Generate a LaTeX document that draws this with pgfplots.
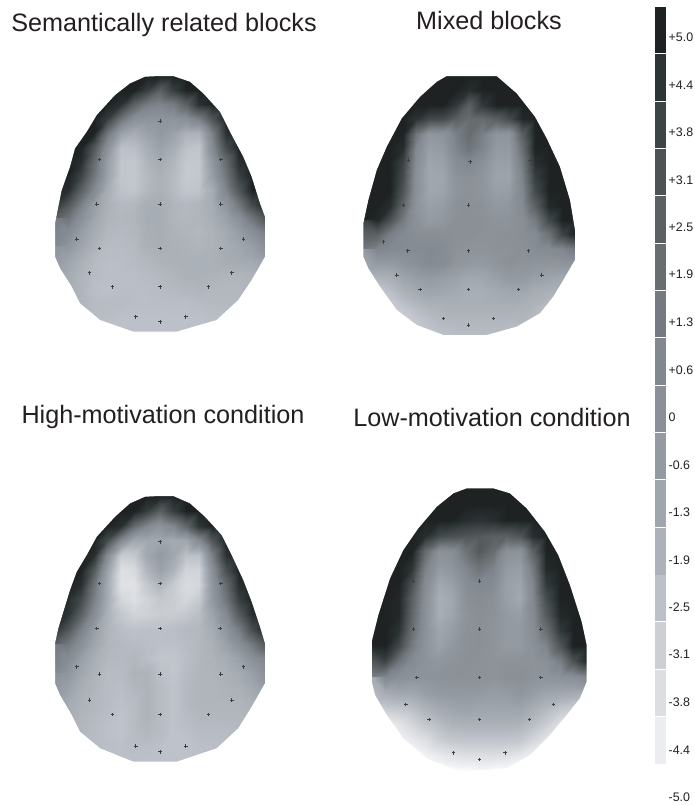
\documentclass[border=0pt]{standalone}
\usepackage{pgfplots}
\usepackage{fontspec}
\setmainfont{Liberation Sans}
\pgfplotsset{compat=1.18}
\newcommand\cell[3]{\addplot[fill={rgb,255:#3},draw=none,forget plot] coordinates {(655,#1)(666,#1)(666,#2)(655,#2)} --cycle;}
\newcommand\lab[2]{\node[anchor=west,inner sep=0pt,font=\fontsize{12.4}{12.4}\selectfont,text={rgb,255:red,35;green,31;blue,32}] at (axis cs:668.5,#1) {#2};}
\newcommand\ttl[3]{\node[inner sep=0pt,font=\fontsize{25.2}{25.2}\selectfont,text={rgb,255:red,35;green,31;blue,32}] at (axis cs:#1,#2) {#3};}
\pgfplotsset{head/.style={surf,shader=interp,forget plot,mesh/cols=17,mesh/rows=19,mesh/ordering=x varies,point meta=\thisrow{v}},
 mask/.style={fill=white,draw=none,forget plot,even odd rule},
 elec/.style={only marks,mark=+,mark size=1.8pt,forget plot,mark options={line width=0.8pt,draw={rgb,255:red,60;green,64;blue,68}}}}
\begin{document}
\begin{tikzpicture}
\path[use as bounding box] (0,0) rectangle (694pt,806pt);
\begin{axis}[at={(0,0)},anchor=south west,hide axis,scale only axis,width=694pt,height=806pt,xmin=0,xmax=694,ymin=0,ymax=806,y dir=reverse,clip=false,
 point meta min=-5,point meta max=5,
 colormap={scalp}{rgb255=(255,255,255) rgb255=(236,237,240) rgb255=(220,222,226) rgb255=(204,208,212) rgb255=(188,192,200) rgb255=(173,178,185) rgb255=(160,166,173) rgb255=(148,154,161) rgb255=(138,144,150) rgb255=(130,136,144) rgb255=(116,122,128) rgb255=(104,109,112) rgb255=(91,97,99) rgb255=(77,83,84) rgb255=(61,68,70) rgb255=(45,52,53) rgb255=(30,34,34)}]
% Head 1
\addplot[head] table[row sep=\\,x expr={55+13.125*mod(\coordindex,17)},y expr={76+14.2*floor(\coordindex/17)}] {v\\
5\\5\\5\\5\\5\\5\\5\\5\\5\\5\\5\\5\\5\\5\\5\\5\\5\\
5\\5\\5\\5\\5\\5\\5\\4\\2.5\\4\\5\\5\\5\\5\\5\\5\\5\\
5\\5\\5\\5\\5\\4.5\\2.5\\1.2\\0.8\\1.2\\2.5\\4.5\\5\\5\\5\\5\\5\\
5\\5\\5\\5\\4\\1.5\\0\\-0.3\\-0.3\\-0.3\\0\\1\\3\\5\\5\\5\\5\\
5\\5\\5\\5\\1.5\\-1\\-1.6\\-1\\-0.6\\-1\\-1.9\\-1.9\\1\\4.5\\5\\5\\5\\
5\\5\\5\\3\\0\\-2.5\\-2.4\\-1.6\\-1\\-1.6\\-2.5\\-2.7\\0.3\\3.5\\5\\5\\5\\
5\\5\\4.6\\2\\-0.8\\-2.7\\-2.8\\-2\\-1.5\\-2\\-2.8\\-2.8\\-0.5\\2\\4.6\\5\\5\\
5\\5\\3.8\\1.5\\-1\\-2.7\\-2.8\\-2.2\\-1.8\\-2.2\\-2.9\\-2.8\\-0.8\\1.5\\4\\5\\5\\
5\\4.6\\2.5\\0.5\\-1.6\\-2.6\\-2.7\\-2.1\\-1.8\\-2.2\\-2.7\\-2.6\\-1.6\\0.8\\3\\5\\5\\
4.4\\3\\1\\-0.8\\-1.8\\-2.2\\-2.1\\-1.7\\-1.6\\-2\\-2.2\\-2\\-1.6\\-0.4\\1.5\\3.6\\5\\
2.5\\1.5\\0\\-1.2\\-1.9\\-2.1\\-2\\-1.6\\-1.6\\-2\\-2.1\\-2\\-1.7\\-1\\0\\1.5\\3\\
1.2\\0.3\\-0.8\\-1.6\\-2.1\\-2.2\\-2.1\\-1.7\\-1.6\\-1.9\\-2\\-2.1\\-1.9\\-1.5\\-0.8\\0\\1\\
0.5\\-0.4\\-1.2\\-1.9\\-2.3\\-2.3\\-2.2\\-1.8\\-1.7\\-1.8\\-1.9\\-2\\-1.9\\-1.6\\-1.3\\-0.8\\0\\
-0.3\\-1.2\\-1.8\\-2.2\\-2.4\\-2.4\\-2.3\\-2.1\\-1.9\\-1.8\\-1.8\\-1.8\\-1.8\\-1.6\\-1.5\\-1.4\\-1\\
-1\\-1.5\\-2\\-2.3\\-2.4\\-2.4\\-2.4\\-2.3\\-2.2\\-2\\-1.8\\-1.8\\-1.9\\-2\\-2\\-1.9\\-1.7\\
-1.5\\-1.7\\-2\\-2.4\\-2.5\\-2.4\\-2.4\\-2.4\\-2.3\\-2.2\\-2.1\\-2\\-2.1\\-2.1\\-2.1\\-2\\-1.8\\
-1.6\\-1.8\\-2\\-2.3\\-2.3\\-2.3\\-2.4\\-2.4\\-2.4\\-2.4\\-2.4\\-2.3\\-2.2\\-2.2\\-2.1\\-2\\-1.9\\
-2\\-2\\-2\\-2.3\\-2.4\\-2.5\\-2.5\\-2.5\\-2.5\\-2.5\\-2.5\\-2.5\\-2.4\\-2.3\\-2.2\\-2.1\\-2\\
-2.5\\-2.5\\-2.5\\-2.5\\-2.5\\-2.5\\-2.5\\-2.5\\-2.5\\-2.5\\-2.5\\-2.5\\-2.5\\-2.5\\-2.5\\-2.5\\-2.5\\
};
\addplot[mask] coordinates {(159,73)(268,73)(268,335)(52,335)(52,73)(159,73)(159,76)(173.3,76)(190,81.7)(203.3,93.3)(220,111.7)(230,131.7)(243.3,156.7)(251.7,176.7)(260,203.3)(265,216.7)(265,256.7)(251.7,280)(238.3,300)(216.7,320)(176.7,331.7)(133.3,331.7)(100,320)(80,303.3)(71.7,286.7)(60,268.3)(55,256.7)(55,223.3)(58.3,206.7)(61.7,190)(70,166.7)(75,148.3)(86.7,131.7)(96.7,115)(115,95)(130,83.3)(145,76.7)(159,76)(159,73)} --cycle;
\addplot[elec] coordinates {(160,121)(99.3,159.3)(160,159.3)(220.7,159.3)(96.7,204)(160,204)(220.7,204)(76.7,239)(243.3,239)(99.3,248.3)(160,248.3)(220.7,248.3)(89.3,272.7)(231.7,272.7)(112.3,286.7)(160,286.7)(208.3,286.7)(135.7,316.7)(160,321.7)(185.7,316.7)};
% Head 2
\addplot[head] table[row sep=\\,x expr={363.3+13.23*mod(\coordindex,17)},y expr={76+14.39*floor(\coordindex/17)}] {v\\
5\\5\\5\\5\\5\\5\\5\\5\\5\\5\\5\\5\\5\\5\\5\\5\\5\\
5\\5\\5\\5\\5\\5\\5\\5\\4.6\\5\\5\\5\\5\\5\\5\\5\\5\\
5\\5\\5\\5\\5\\5\\5\\4.2\\2.5\\4.2\\5\\5\\5\\5\\5\\5\\5\\
5\\5\\5\\5\\4.4\\3.5\\3.4\\2.5\\1.9\\1.9\\2.5\\3.4\\4.8\\5\\5\\5\\5\\
5\\5\\5\\5\\1.5\\-0.4\\-0.2\\1\\1.9\\1\\-0.3\\-0.3\\2.5\\5\\5\\5\\5\\
5\\5\\5\\4.6\\0.6\\-0.9\\-0.6\\0.8\\1.5\\0.8\\-0.6\\-0.6\\1.8\\5\\5\\5\\5\\
5\\5\\5\\3.8\\0.2\\-1.2\\-1\\0.2\\0.6\\0\\-0.9\\-0.9\\1.2\\4.6\\5\\5\\5\\
5\\5\\5\\3.4\\0\\-1.3\\-1.2\\-0.2\\0\\-0.3\\-1.1\\-1.1\\0.8\\4\\5\\5\\5\\
5\\5\\5\\3\\0\\-1.3\\-1.1\\-0.3\\-0.1\\-0.3\\-0.9\\-0.8\\0.6\\3.5\\5\\5\\5\\
5\\5\\4.6\\2.2\\-0.2\\-0.9\\-0.7\\-0.1\\0\\-0.1\\-0.5\\-0.4\\0.4\\2.5\\4.8\\5\\5\\
5\\4.8\\3.2\\1.2\\-0.1\\-0.7\\-0.5\\0\\0\\0\\-0.2\\-0.2\\0.1\\1.2\\3.6\\5\\5\\
3.8\\2.5\\1\\0.5\\0.2\\0.1\\0.1\\0\\0\\-0.1\\-0.1\\0\\0.1\\0.4\\1.6\\3.8\\5\\
1.3\\0.8\\0.5\\0.4\\0.4\\0.5\\0.3\\-0.1\\-0.2\\-0.2\\-0.1\\-0.1\\0\\0.2\\0.3\\0.6\\1.3\\
-0.6\\-0.6\\-0.6\\-0.3\\0\\0.4\\0.3\\-0.3\\-0.6\\-0.6\\-0.3\\0\\-0.2\\-0.3\\-0.3\\-0.3\\-0.3\\
-1.9\\-1.9\\-1.7\\-1.1\\-0.8\\-0.6\\-0.8\\-1\\-1.3\\-1.3\\-0.9\\-0.6\\-0.6\\-0.9\\-1.1\\-1.3\\-1.5\\
-3\\-2.8\\-2.5\\-1.9\\-1.5\\-1.2\\-1.3\\-1.5\\-1.7\\-1.7\\-1.5\\-1.3\\-1.3\\-1.6\\-1.8\\-2\\-2.2\\
-3.5\\-3.5\\-3.1\\-2.6\\-2.2\\-1.9\\-1.8\\-1.7\\-1.7\\-1.7\\-1.7\\-1.7\\-1.8\\-2\\-2.4\\-2.7\\-3\\
-4\\-4\\-3.8\\-3.3\\-2.8\\-2.4\\-2.1\\-2.1\\-2.1\\-2.1\\-2.1\\-2.1\\-2.1\\-2.4\\-2.7\\-3\\-3\\
-4\\-4\\-3.8\\-3.5\\-3.1\\-2.8\\-2.5\\-2.3\\-2.3\\-2.3\\-2.3\\-2.5\\-2.5\\-2.7\\-3\\-3\\-3\\
};
\addplot[mask] coordinates {(468,73)(578,73)(578,338)(360,338)(360,73)(468,73)(468,76)(496.7,76)(516.7,93.3)(535,116.7)(546.7,138.3)(560,166.7)(570,200)(575,230)(575,260)(563.3,280)(553.3,296.7)(540,313.3)(516.7,326.7)(486.7,335)(443.3,335)(416.7,325)(396.7,310)(380,286.7)(368.3,268.3)(363.3,256.7)(363.3,223.3)(368.3,200)(376.7,170)(386.7,146.7)(401.7,118.3)(420,96.7)(436.7,81.7)(446.7,76)(468,76)(468,73)} --cycle;
\addplot[elec] coordinates {(470,161.7)(408.3,160)(530,160)(403.3,205)(468.3,205)(383.3,241.7)(407.7,250.7)(468.3,250.7)(528.3,250.7)(396.7,275)(541.7,275)(420,289.3)(468.3,289.3)(518.3,289.3)(443.3,318.3)(468.3,325)(493.3,318.3)};
% Head 3
\addplot[head] table[row sep=\\,x expr={55+13.125*mod(\coordindex,17)},y expr={496+14.76*floor(\coordindex/17)}] {v\\
5\\5\\5\\5\\5\\5\\5\\5\\5\\5\\5\\5\\5\\5\\5\\5\\5\\
5\\5\\5\\5\\5\\5\\5\\4\\2.5\\4\\5\\5\\5\\5\\5\\5\\5\\
5\\5\\5\\5\\5\\4.5\\2\\0.6\\-0.3\\0.6\\2.2\\4.4\\5\\5\\5\\5\\5\\
5\\5\\5\\5\\3.5\\0.5\\-1.3\\-1.3\\-1.3\\-1.5\\-1.3\\0.5\\3\\5\\5\\5\\5\\
5\\5\\5\\4.6\\0.5\\-3\\-2.8\\-1.3\\-0.6\\-1.3\\-2.5\\-2.5\\1\\4.5\\5\\5\\5\\
5\\5\\5\\2.8\\-1\\-3.8\\-3.6\\-2\\-1\\-1.9\\-3.3\\-3.3\\0\\3.3\\5\\5\\5\\
5\\5\\4.5\\1.5\\-1.5\\-3.9\\-3.9\\-2.8\\-2\\-2.9\\-3.6\\-3.4\\-0.5\\2\\4.6\\5\\5\\
5\\4.6\\3.5\\1\\-1.5\\-3.4\\-3.8\\-3.3\\-2.8\\-3\\-3.4\\-2.9\\-0.6\\1.5\\4\\5\\5\\
5\\4.4\\2.5\\0.2\\-1.8\\-2.8\\-3.3\\-3.2\\-3\\-3\\-2.8\\-2.4\\-1.2\\0.5\\2.8\\4.6\\5\\
4.4\\3\\1\\-0.8\\-1.9\\-2.4\\-2.6\\-2.5\\-2.5\\-2.4\\-2.2\\-2.1\\-1.6\\-0.4\\1.2\\3.4\\5\\
2.5\\1.3\\0\\-1.2\\-2\\-2.2\\-2.3\\-2.4\\-2.5\\-2.5\\-2.3\\-2.1\\-1.8\\-1\\0\\1.3\\2.8\\
1.3\\0.3\\-0.9\\-1.7\\-2.1\\-2.2\\-2.1\\-2.4\\-2.7\\-2.7\\-2.4\\-2.1\\-1.9\\-1.6\\-1\\0\\0.8\\
0.6\\-0.4\\-1.3\\-1.9\\-2.3\\-2.3\\-1.9\\-1.9\\-2.5\\-2.7\\-2.3\\-2\\-2\\-1.8\\-1.5\\-0.9\\0\\
-0.1\\-1\\-1.7\\-2\\-2.3\\-2.4\\-2.1\\-1.9\\-2.3\\-2.6\\-2.2\\-2\\-2\\-1.9\\-1.8\\-1.4\\-0.8\\
-0.8\\-1.5\\-1.9\\-2.1\\-2.3\\-2.5\\-2.3\\-1.9\\-2.3\\-2.6\\-2.2\\-2\\-2\\-2\\-2\\-1.8\\-1.3\\
-1.2\\-1.7\\-2\\-2.2\\-2.4\\-2.6\\-2.3\\-1.9\\-2.3\\-2.6\\-2.3\\-2.1\\-2.1\\-2.1\\-2.1\\-1.9\\-1.6\\
-1.5\\-1.9\\-2.1\\-2.3\\-2.5\\-2.6\\-2.3\\-2.1\\-2.3\\-2.6\\-2.5\\-2.3\\-2.3\\-2.3\\-2.2\\-2\\-1.8\\
-2\\-2\\-2.2\\-2.3\\-2.4\\-2.5\\-2.4\\-2.4\\-2.5\\-2.6\\-2.6\\-2.5\\-2.4\\-2.3\\-2.2\\-2.1\\-2\\
-2.5\\-2.5\\-2.5\\-2.5\\-2.5\\-2.5\\-2.5\\-2.5\\-2.5\\-2.5\\-2.5\\-2.5\\-2.5\\-2.5\\-2.5\\-2.5\\-2.5\\
};
\addplot[mask] coordinates {(159,493)(268,493)(268,765)(52,765)(52,493)(159,493)(159,496)(173.3,496)(190,503.3)(205,516.7)(221.7,535)(231.7,555)(243.3,580)(251.7,601.7)(260,626.7)(265,643.3)(265,683.3)(251.7,706.7)(238.3,728.3)(216.7,748.3)(176.7,761.7)(133.3,761.7)(100,748.3)(80,731.7)(71.7,715)(60,695)(55,683.3)(55,643.3)(58.3,628.3)(63.3,611.7)(70,590)(76.7,571.7)(86.7,555)(96.7,536.7)(115,516.7)(130,503.3)(145,496.7)(159,496)(159,493)} --cycle;
\addplot[elec] coordinates {(160,541.7)(99.3,583.3)(160,583.3)(220.7,583.3)(96.7,628.3)(160,628.3)(220,628.3)(76.7,666.7)(243.3,666.7)(99.3,674)(160,674)(220.7,674)(89.3,700)(231.7,700)(112.3,714.3)(160,714.3)(208.3,714.3)(135.7,746)(160,751.7)(185.7,746)};
% Head 4
\addplot[head] table[row sep=\\,x expr={371.7+13.4375*mod(\coordindex,17)},y expr={488.3+15.74*floor(\coordindex/17)}] {v\\
5\\5\\5\\5\\5\\5\\5\\5\\5\\5\\5\\5\\5\\5\\5\\5\\5\\
5\\5\\5\\5\\5\\5\\5\\5\\5\\5\\5\\5\\5\\5\\5\\5\\5\\
5\\5\\5\\5\\5\\5\\5\\4.6\\4.4\\4.6\\5\\5\\5\\5\\5\\5\\5\\
5\\5\\5\\5\\4.6\\3.5\\3.2\\3\\2.8\\2.5\\2.5\\3\\4.6\\5\\5\\5\\5\\
5\\5\\5\\5\\2\\0\\0.2\\1.6\\2.8\\1.9\\0\\-0.2\\2.5\\5\\5\\5\\5\\
5\\5\\5\\4.4\\1\\-0.6\\-0.3\\0.8\\1.6\\0.9\\-0.6\\-0.8\\1.4\\4.8\\5\\5\\5\\
5\\5\\5\\3.2\\0.4\\-1.3\\-0.9\\0.2\\0.6\\0.4\\-0.9\\-1.2\\0.8\\4.2\\5\\5\\5\\
5\\5\\4.8\\2.5\\0.1\\-1.7\\-1.3\\0\\0.3\\0\\-0.9\\-1.4\\0.6\\3.4\\5\\5\\5\\
5\\5\\4.8\\2.2\\0\\-1.7\\-1.2\\-0.2\\0.1\\-0.1\\-0.6\\-0.8\\0.4\\2.8\\4.8\\5\\5\\
5\\5\\4.4\\1.8\\-0.1\\-1.2\\-0.8\\-0.1\\0\\-0.2\\-0.6\\-0.6\\0.2\\1.8\\4.2\\5\\5\\
5\\5\\3.5\\1.2\\-0.2\\-1\\-0.5\\-0.1\\0\\-0.2\\-0.6\\-0.6\\-0.1\\0.8\\3\\5\\5\\
4.8\\3.8\\1.5\\0.4\\-0.2\\-0.4\\-0.2\\0\\-0.1\\-0.2\\-0.1\\-0.1\\-0.2\\0\\1\\3.2\\4.8\\
1\\0.6\\0\\-0.2\\-0.2\\-0.1\\-0.1\\-0.1\\-0.1\\-0.2\\0\\0.1\\-0.2\\-0.3\\-0.2\\0\\0.6\\
-1.5\\-1.6\\-1.3\\-1.3\\-0.9\\-0.6\\-0.5\\-0.5\\-0.6\\-0.8\\-0.7\\-0.4\\-0.8\\-1.2\\-1.3\\-1.5\\-1.7\\
-3\\-3\\-2.8\\-2.5\\-1.9\\-1.5\\-1.2\\-1.1\\-1.2\\-1.2\\-1.2\\-1.2\\-1.7\\-2.2\\-2.8\\-3.1\\-3.5\\
-4.4\\-4.4\\-4\\-3.4\\-2.8\\-2.3\\-1.9\\-1.8\\-1.8\\-1.8\\-1.8\\-1.9\\-2.4\\-3\\-3.8\\-4.4\\-4.6\\
-5\\-5\\-4.6\\-4.2\\-3.8\\-3.1\\-2.8\\-2.7\\-2.7\\-2.7\\-2.7\\-2.8\\-3.4\\-4\\-4.6\\-5\\-5\\
-5\\-5\\-5\\-5\\-4.6\\-4.3\\-4\\-3.8\\-3.8\\-3.8\\-3.9\\-4.2\\-4.6\\-5\\-5\\-5\\-5\\
-5\\-5\\-5\\-5\\-5\\-5\\-5\\-5\\-4.8\\-5\\-5\\-5\\-5\\-5\\-5\\-5\\-5\\
};
\addplot[mask] coordinates {(478,485)(590,485)(590,775)(368,775)(368,485)(478,485)(478,488.3)(493.3,488.3)(510,493.3)(526.7,508.3)(545,531.7)(558.3,555)(570,585)(581.7,621.7)(586.7,645)(586.7,681.7)(580,698.3)(566.7,715)(550,735)(530,755)(506.7,768.3)(460,771.7)(426.7,758.3)(403.3,738.3)(386.7,715)(375,695)(371.7,681.7)(371.7,641.7)(378.3,615)(390,578.3)(403.3,550)(418.3,528.3)(436.7,506.7)(453.3,493.3)(466.7,488.3)(478,488.3)(478,485)} --cycle;
\addplot[elec] coordinates {(479.3,581)(413.3,581)(413.3,629)(479.3,629)(540.7,629)(416.7,677.3)(479.3,677.3)(540.7,677.3)(405.7,704.3)(553.3,704.3)(429,719.3)(479.3,719.3)(529.3,719.3)(453.3,752.7)(479.3,759.3)(505,752.7)};
% Colour bar
\cell{7}{53.2}{red,30;green,34;blue,34}
\cell{54.2}{100.5}{red,45;green,52;blue,53}
\cell{101.5}{147.8}{red,61;green,68;blue,70}
\cell{148.8}{195.1}{red,77;green,83;blue,84}
\cell{196.1}{242.5}{red,91;green,97;blue,99}
\cell{243.5}{289.8}{red,104;green,109;blue,112}
\cell{290.8}{337.1}{red,116;green,122;blue,128}
\cell{338.1}{384.5}{red,130;green,136;blue,144}
\cell{385.5}{431.8}{red,138;green,144;blue,150}
\cell{432.8}{479.1}{red,148;green,154;blue,161}
\cell{480.1}{526.5}{red,160;green,166;blue,173}
\cell{527.5}{574.8}{red,173;green,178;blue,185}
\cell{574.8}{621.1}{red,188;green,192;blue,200}
\cell{622.1}{668.5}{red,204;green,208;blue,212}
\cell{669.5}{715.8}{red,220;green,222;blue,226}
\cell{716.8}{764}{red,236;green,237;blue,240}
\lab{37.7}{+5.0}\lab{85}{+4.4}\lab{132}{+3.8}\lab{180}{+3.1}\lab{227}{+2.5}\lab{274}{+1.9}\lab{322}{+1.3}\lab{370}{+0.6}\lab{417}{0}\lab{465}{-0.6}\lab{512}{-1.3}\lab{560}{-1.9}\lab{607}{-2.5}\lab{654}{-3.1}\lab{702}{-3.8}\lab{750}{-4.4}\lab{797}{-5.0}
\ttl{164}{25}{Semantically related blocks}
\ttl{489}{20}{Mixed blocks}
\ttl{163}{417}{High-motivation condition}
\ttl{492}{417}{Low-motivation condition}
\end{axis}
\end{tikzpicture}
\end{document}
